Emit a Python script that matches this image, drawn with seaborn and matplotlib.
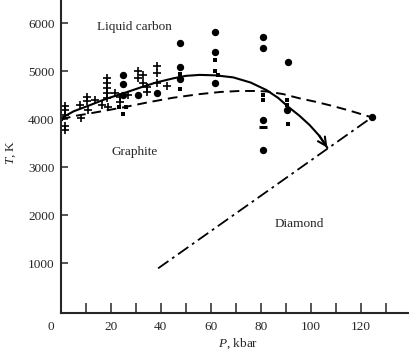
import matplotlib
matplotlib.use("Agg")
import matplotlib.pyplot as plt
import seaborn as sns
import numpy as np
import pandas as pd
from matplotlib.transforms import blended_transform_factory

# ---- data (P in kbar, T in K) ----
melt_P = [0, 5, 11.6, 18, 24.9, 32, 38, 44.9, 50, 55.6, 62, 69, 76, 82.3, 87, 91, 95.5, 99.6, 103.5, 106.7]
melt_T = [4015, 4160, 4290, 4420, 4535, 4660, 4760, 4847, 4900, 4920, 4910, 4868, 4760, 4604, 4440, 4256, 4070, 3875, 3650, 3402]

gd_P = [0, 5, 11.6, 24.9, 35, 44.9, 55.6, 64, 71.6, 78, 82.3, 89, 95.6, 102, 108.9, 116, 124.5]
gd_T = [3990, 4060, 4118, 4243, 4350, 4444, 4520, 4565, 4585, 4585, 4575, 4520, 4431, 4360, 4271, 4170, 4035]

dd_P = [38.9, 124.5]
dd_T = [890, 4035]

plus_P = [1.6, 1.6, 1.6, 1.6, 1.6, 7.6, 7.9, 10.3, 10.3, 10.9, 13.6, 16.3,
          18.3, 18.3, 18.3, 18.3, 18.3, 18.9, 21.6, 23.6, 23.6, 26.9,
          30.7, 30.7, 32.9, 32.9, 34.3, 34.3, 38.5, 38.5, 38.5, 42.3]
plus_T = [4271, 4188, 4083, 3854, 3771, 4292, 4014, 4465, 4382, 4188, 4396, 4292,
          4848, 4744, 4640, 4535, 4431, 4256, 4548, 4465, 4360, 4500,
          5006, 4848, 4917, 4757, 4660, 4569, 5104, 4952, 4757, 4688]

circ_P = [24.7, 24.7, 24.7, 30.7, 38.5, 47.6, 47.6, 47.6, 61.6, 61.6, 61.6,
          80.9, 80.9, 90.9, 80.9, 80.9, 90.5, 124.5]
circ_T = [4917, 4722, 4500, 4500, 4535, 5577, 5077, 4826, 5806, 5402, 4757,
          5715, 5486, 5194, 3979, 3354, 4188, 4035]

sq_P = [0, 23.3, 26, 24.7, 47.6, 47.6, 61.6, 61.6, 62.7, 80.9, 80.9, 90.5, 90.5, 90.9]
sq_T = [4000, 4243, 4243, 4097, 4938, 4618, 5229, 5006, 4917, 4500, 4396, 4396, 4300, 3896]

bar_P = [80.9]
bar_T = [3840]

x_ticks = list(range(0, 140, 10))
x_labels = ["", "", "20", "", "40", "", "60", "", "80", "", "100", "", "120", ""]
y_ticks = [1000, 2000, 3000, 4000, 5000, 6000]
y_labels = ["1000", "2000", "3000", "4000", "5000", "6000"]

regions = ["Liquid carbon", "Graphite", "Diamond"]
region_P = [29.3, 29.3, 95.6]
region_T = [5917, 3312, 1812]

# ---- style ----
sns.set_style("ticks")
plt.rcParams["font.family"] = ["Liberation Serif", "DejaVu Serif"]
plt.rcParams["mathtext.fontset"] = "custom"
plt.rcParams["mathtext.it"] = "Liberation Serif:italic"
plt.rcParams["mathtext.rm"] = "Liberation Serif"

fig = plt.figure(figsize=(4.10, 3.52), dpi=100)
ax = fig.add_axes([61 / 410, 39 / 352, 347 / 410, 313 / 352])

k = "black"
sns.lineplot(x=melt_P, y=melt_T, ax=ax, sort=False, color=k, lw=1.5, estimator=None)
sns.lineplot(x=gd_P, y=gd_T, ax=ax, sort=False, color=k, lw=1.4, estimator=None)
ax.lines[-1].set_dashes((5, 3))
sns.lineplot(x=dd_P, y=dd_T, ax=ax, sort=False, color=k, lw=1.3, estimator=None)
ax.lines[-1].set_dashes((7, 2.5, 1.5, 2.5))

# arrowhead at the end of the melting curve
ax.annotate("", xy=(melt_P[-1], melt_T[-1]), xytext=(melt_P[-2], melt_T[-2]),
            arrowprops=dict(arrowstyle="->,head_length=0.6,head_width=0.3", color=k, lw=1.5,
                            shrinkA=0, shrinkB=0))

sns.scatterplot(x=plus_P, y=plus_T, ax=ax, marker="+", s=34, color=k, linewidth=1.2)
sns.scatterplot(x=circ_P, y=circ_T, ax=ax, marker="o", s=28, color=k, linewidth=0)
sns.scatterplot(x=sq_P, y=sq_T, ax=ax, marker="s", s=10, color=k, linewidth=0)
sns.scatterplot(x=bar_P, y=bar_T, ax=ax, marker="_", s=40, color=k, linewidth=2.2)

for name, px, py in zip(regions, region_P, region_T):
    ax.text(px, py, name, ha="center", va="center", fontsize=9.5)

ax.set_xlim(0, 139)
ax.set_ylim(-40, 6480)
ax.set_xticks(x_ticks)
ax.set_xticklabels(x_labels)
ax.set_yticks(y_ticks)
ax.set_yticklabels(y_labels)
ax.tick_params(axis="x", direction="in", length=7, width=1.1, pad=6, labelsize=9.5)
ax.tick_params(axis="y", direction="in", length=5, width=1.1, pad=4.5, labelsize=9.5)
for s in ["top", "right"]:
    ax.spines[s].set_visible(False)
for s in ["left", "bottom"]:
    ax.spines[s].set_linewidth(1.5)

tr = blended_transform_factory(ax.transData, ax.transAxes)
ax.text(-4, -0.026, "0", transform=tr, ha="center", va="top", fontsize=9.5)

ax.set_xlabel("$P$, kbar", fontsize=9.5)
ax.xaxis.set_label_coords(0.51, -0.075)
ax.set_ylabel("$T$, K", fontsize=9.5)
ax.yaxis.set_label_coords(-0.125, 0.515)

fig.savefig("out.png", dpi=100)
